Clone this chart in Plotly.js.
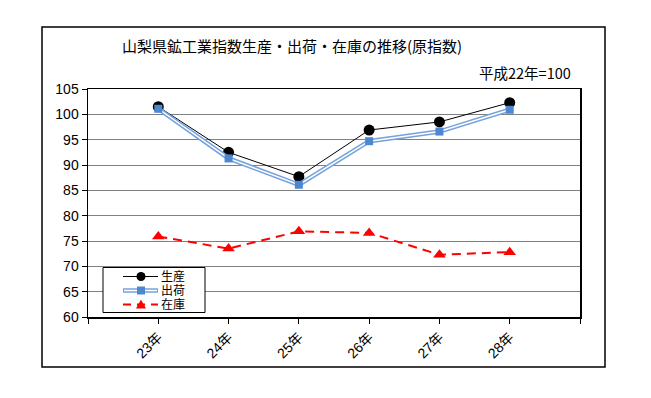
<!DOCTYPE html>
<html>
<head>
<meta charset="utf-8">
<script src="https://cdn.plot.ly/plotly-3.0.1.min.js"></script>
<style>html,body{margin:0;padding:0;background:#fff;}#chart{width:651px;height:398px;}</style>
</head>
<body>
<div id="chart"></div>
<script>
const categories = ['23年', '24年', '25年', '26年', '27年', '28年'];
const seisan = [101.5, 92.5, 87.7, 96.9, 98.5, 102.3];
const shukka = [101.1, 91.3, 86.1, 94.7, 96.6, 100.9];
const zaiko = [75.9, 73.5, 76.9, 76.6, 72.3, 72.8];
const seriesNames = ['生産', '出荷', '在庫'];
const yTicks = [60, 65, 70, 75, 80, 85, 90, 95, 100, 105];

const xPos = categories.map((c, i) => i + 1);
const tickVals = [0].concat(xPos, [categories.length + 1]);
const tickText = [''].concat(categories, ['']);

const font = 'Liberation Sans, Arial, Noto Sans CJK JP, sans-serif';
const jfont = 'Noto Sans CJK JP, sans-serif';
const blueLine = '#74A2DC';
const blueMarker = '#4D87D2';

// plot area in pixels: x 88..580, y 89..317
const PX = x => (x - 88) / 492;
const PY = y => (317 - y) / 228;

const traces = [
  {x: xPos, y: seisan, name: seriesNames[0], mode: 'lines+markers', showlegend: false,
   line: {color: '#000', width: 1}, marker: {symbol: 'circle', size: 11, color: '#000'}},
  {x: xPos, y: shukka, name: seriesNames[1], mode: 'lines', showlegend: false,
   line: {color: blueLine, width: 4.5}},
  {x: xPos, y: shukka, name: seriesNames[1], mode: 'lines', showlegend: false,
   line: {color: '#fff', width: 1.5}},
  {x: xPos, y: shukka, name: seriesNames[1], mode: 'markers', showlegend: false,
   marker: {symbol: 'square', size: 8, color: blueMarker}},
  {x: xPos, y: zaiko, name: seriesNames[2], mode: 'lines+markers', showlegend: false,
   line: {color: '#FF0000', width: 2, dash: '9px,6px'}, marker: {symbol: 'triangle-up', size: 11, color: '#FF0000'}}
];

// manual legend (style only)
const legRows = [276.5, 290.5, 304.5];
const lx0 = 123, lx1 = 158, lxm = 141, ltx = 160;
const shapes = [
  {type: 'rect', xref: 'paper', yref: 'paper', x0: PX(42), x1: PX(605), y0: PY(367), y1: PY(27),
   line: {color: '#000', width: 1.5}, fillcolor: 'rgba(0,0,0,0)', layer: 'below'},
  {type: 'rect', xref: 'paper', yref: 'paper', x0: PX(103), x1: PX(205), y0: PY(312.5), y1: PY(267.5),
   line: {color: '#000', width: 1}, fillcolor: '#fff', layer: 'above'},
  // 生産
  {type: 'line', xref: 'paper', yref: 'paper', x0: PX(lx0), x1: PX(lx1), y0: PY(legRows[0]), y1: PY(legRows[0]),
   line: {color: '#000', width: 1}},
  {type: 'circle', xref: 'paper', yref: 'paper', x0: PX(lxm - 4.5), x1: PX(lxm + 4.5), y0: PY(legRows[0] + 4.5), y1: PY(legRows[0] - 4.5),
   line: {color: '#000', width: 0}, fillcolor: '#000'},
  // 出荷
  {type: 'line', xref: 'paper', yref: 'paper', x0: PX(lx0), x1: PX(lx1), y0: PY(legRows[1]), y1: PY(legRows[1]),
   line: {color: blueLine, width: 4.5}},
  {type: 'line', xref: 'paper', yref: 'paper', x0: PX(lx0 + 1), x1: PX(lx1 - 1), y0: PY(legRows[1]), y1: PY(legRows[1]),
   line: {color: '#fff', width: 1.5}},
  {type: 'rect', xref: 'paper', yref: 'paper', x0: PX(lxm - 4), x1: PX(lxm + 4), y0: PY(legRows[1] + 4), y1: PY(legRows[1] - 4),
   line: {color: blueMarker, width: 0}, fillcolor: blueMarker},
  // 在庫
  {type: 'line', xref: 'paper', yref: 'paper', x0: PX(lx0), x1: PX(lx1), y0: PY(legRows[2]), y1: PY(legRows[2]),
   line: {color: '#FF0000', width: 2, dash: '8px,6px'}},
  {type: 'path', xref: 'paper', yref: 'paper',
   path: `M ${PX(lxm - 5)} ${PY(legRows[2] + 4)} L ${PX(lxm + 5)} ${PY(legRows[2] + 4)} L ${PX(lxm)} ${PY(legRows[2] - 5)} Z`,
   line: {color: '#FF0000', width: 0}, fillcolor: '#FF0000'}
];

const annotations = [
  {text: '平成22年=100', xref: 'paper', yref: 'paper', x: PX(573), y: PY(72),
   xanchor: 'right', yanchor: 'middle', showarrow: false,
   font: {family: jfont, size: 14.5, color: '#000'}}
].concat(seriesNames.map((n, i) => ({
  text: n, xref: 'paper', yref: 'paper', x: PX(ltx), y: PY(legRows[i]), xanchor: 'left', yanchor: 'middle',
  showarrow: false, borderpad: 0,
  font: {family: 'Liberation Sans, Noto Sans CJK JP, sans-serif', size: 12, color: '#000'}
})));

const layout = {
  width: 651, height: 398,
  margin: {l: 88, r: 71, t: 89, b: 81},
  paper_bgcolor: '#fff', plot_bgcolor: '#fff',
  font: {family: font, size: 14, color: '#000'},
  title: {text: '山梨県鉱工業指数生産・出荷・在庫の推移(原指数)', x: 292 / 651, xanchor: 'center',
          y: 1 - 47 / 398, yanchor: 'middle', font: {family: jfont, size: 15, color: '#000'}},
  xaxis: {type: 'linear', range: [0, categories.length + 1], tickvals: tickVals, ticktext: tickText,
          tickangle: -45, ticks: 'outside', ticklen: 5, tickcolor: '#000', showgrid: false, zeroline: false,
          showline: true, linecolor: '#000', linewidth: 1.5, mirror: true,
          tickfont: {family: font, size: 14}},
  yaxis: {range: [60, 105], tickvals: yTicks, ticks: 'outside', ticklen: 5, tickcolor: '#000',
          showgrid: true, gridcolor: '#808080', gridwidth: 1, zeroline: false,
          showline: true, linecolor: '#000', linewidth: 1.5, mirror: true,
          tickfont: {family: font, size: 14}},
  showlegend: false,
  annotations: annotations,
  shapes: shapes
};

Plotly.newPlot('chart', traces, layout, {displayModeBar: false, staticPlot: true});
</script>
</body>
</html>
